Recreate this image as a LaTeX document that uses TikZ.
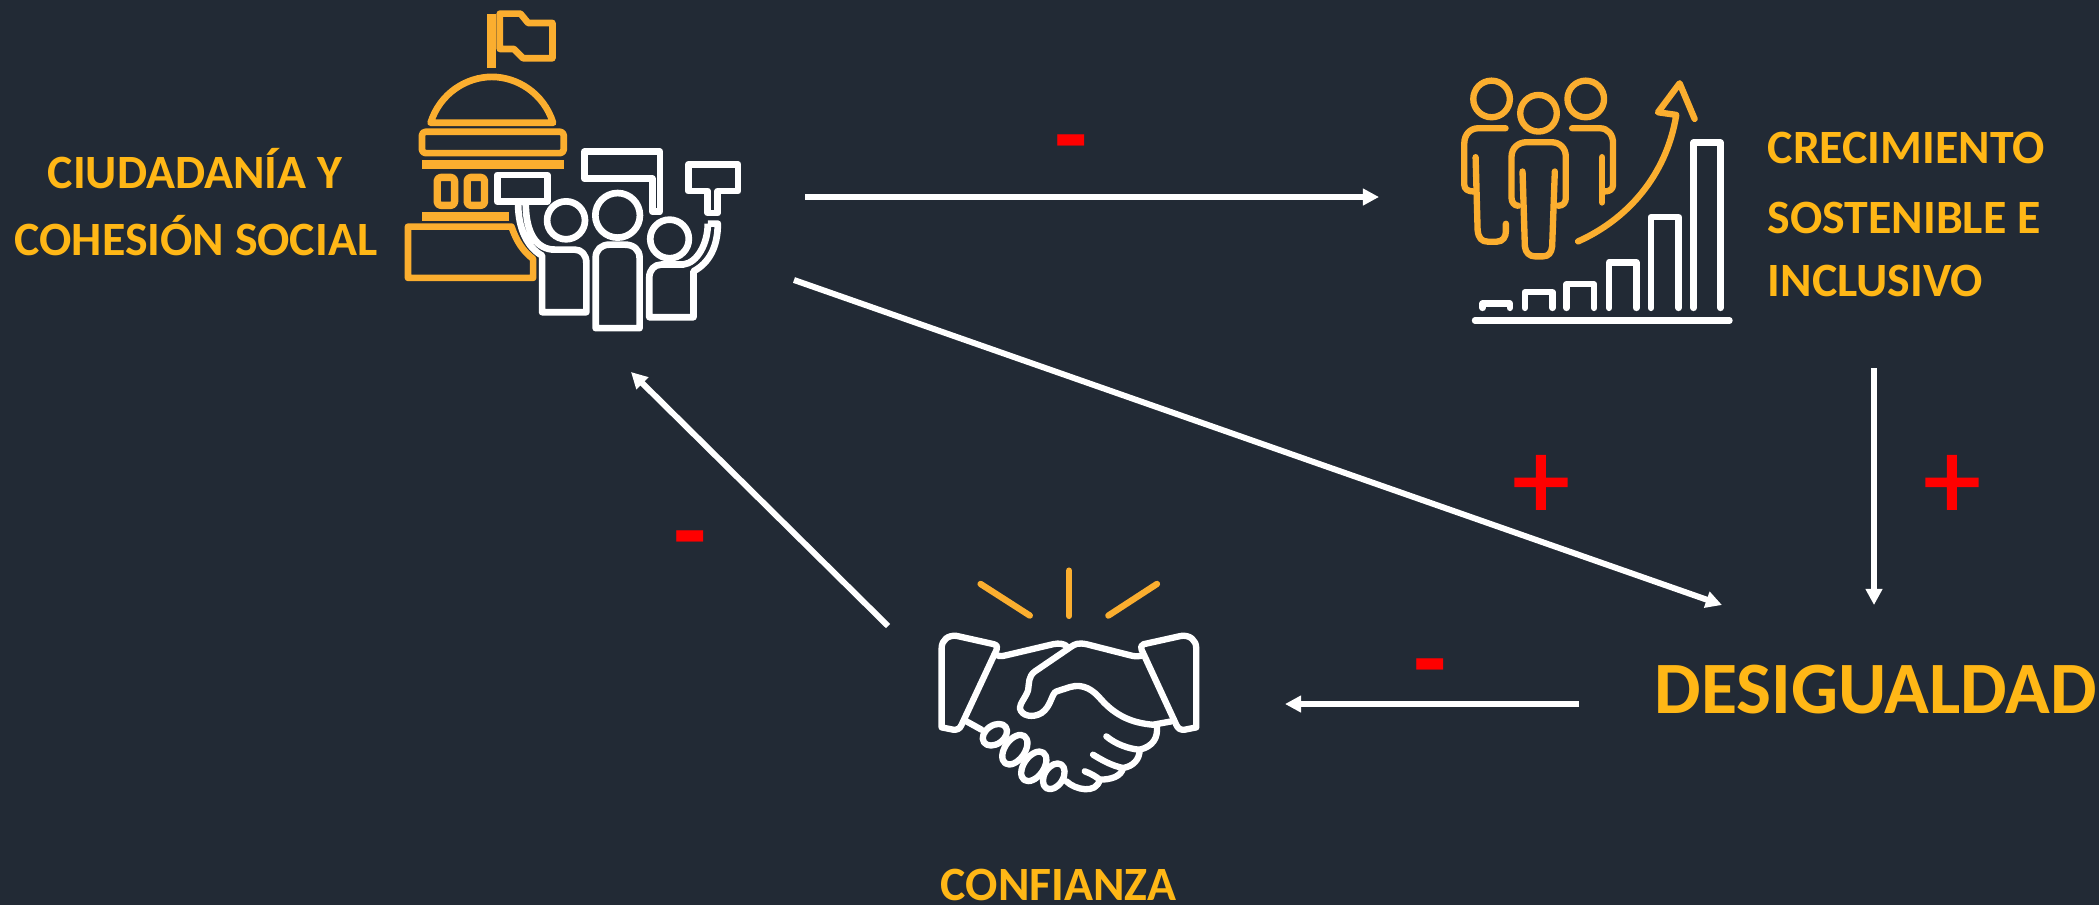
\documentclass[tikz,border=0pt]{standalone}
\usepackage{fontspec}
\setmainfont{Carlito}
\newfontfamily\signfont[FakeBold=2]{Carlito}
\usepackage{tikz}
\usetikzlibrary{arrows.meta}
\definecolor{slatebg}{HTML}{222A35}
\definecolor{labelgold}{HTML}{FFB716}
\definecolor{iconamber}{HTML}{FBAE2F}
\definecolor{signred}{HTML}{FF0000}
\tikzset{
  lab/.style={anchor=base west, inner sep=0pt, text=labelgold, font=\fontsize{13.6}{16}\selectfont\bfseries},
  biglab/.style={lab, font=\fontsize{21}{25}\selectfont\bfseries},
  sign/.style={inner sep=0pt, text=signred, font=\fontsize{31}{31}\selectfont\bfseries},
  signp/.style={sign, font=\fontsize{32}{32}\selectfont\signfont},
  link/.style={draw=white, line width=1.5pt, -{Triangle[length=4.6pt,width=4.6pt]}},
  linkb/.style={link, line width=1.7pt},
  icona/.style={draw=iconamber, line width=1.9pt, line join=round},
  iconw/.style={draw=white, line width=1.9pt, line join=round},
  iconas/.style={icona, line width=1.8pt, line cap=round},
  iconws/.style={iconw, line width=1.8pt, line cap=round},
  zoomed/.style={x=0.003333cm, y=-0.003333cm},
}
\begin{document}
\begin{tikzpicture}[x=0.01cm, y=-0.01cm]
  \useasboundingbox (0,0) rectangle (2099,905);
  \fill[slatebg] (0,0) rectangle (2099,905);

  \begin{scope}[shift={(390,0)}, zoomed]
    \fill[iconamber] (292,42) rectangle (320,205);
    \draw[icona] (330,41) -- (392,41) -- (415,69) -- (488,69) -- (488,175) -- (400,175) -- (372,147) -- (330,147) -- cycle;
    \draw[icona] (122,369) .. controls (150,280) and (230,231) .. (306,231) .. controls (382,231) and (462,280) .. (490,369) -- cycle;
    \draw[icona, rounded corners=1pt] (96,396) rectangle (522,460);
    \fill[iconamber] (96,480) rectangle (522,508);
    \draw[icona, line width=2.1pt, rounded corners=1pt] (142,533) rectangle (194,617);
    \draw[icona, line width=2.1pt, rounded corners=1pt] (232,533) rectangle (284,617);
    \fill[iconamber] (96,636) rectangle (358,663);
    \draw[icona] (54,681) -- (365,681) .. controls (380,725) and (400,755) .. (430,778) -- (430,835) -- (54,835) -- cycle;
    \draw[iconw] (322,526) rectangle (473,606);
    \draw[iconw] (385,612) .. controls (385,690) and (415,745) .. (457,768) -- (457,938) -- (590,938) -- (590,790) .. controls (590,765) and (575,750) .. (555,750) -- (495,750) .. controls (440,750) and (408,700) .. (408,612);
    \draw[iconw] (529,662) circle [radius=57];
    \draw[iconw] (684,647) circle [radius=67];
    \draw[iconw] (840,718) circle [radius=58];
    \draw[iconw] (584,456) -- (811,456) -- (811,636) -- (788,636) -- (788,537) -- (584,537) -- cycle;
    \draw[iconw] (618,986) -- (618,775) .. controls (618,750) and (635,735) .. (660,735) -- (705,735) .. controls (732,735) and (750,750) .. (750,775) -- (750,986) -- cycle;
    \draw[iconw] (896,494) -- (1046,494) -- (1046,574) -- (985,574) -- (985,640) -- (955,640) -- (955,574) -- (896,574) -- cycle;
    \draw[iconw] (955,672) -- (985,672) .. controls (985,740) and (960,790) .. (912,815) -- (912,953) -- (779,953) -- (779,835) .. controls (779,810) and (795,795) .. (815,795) -- (880,795) .. controls (925,790) and (955,730) .. (955,672);
  \end{scope}

  \begin{scope}[shift={(1440,60)}, zoomed]
    \draw[iconas] (155,117) circle [radius=55];
    \draw[iconas] (438,117) circle [radius=55];
    \draw[iconas] (296,160) circle [radius=55];
    \draw[iconas] (197,205) -- (115,205) .. controls (90,205) and (73,225) .. (73,250) -- (73,375) .. controls (73,388) and (85,395) .. (100,395);
    \draw[iconas] (107,292) -- (113,510) .. controls (115,535) and (125,546) .. (145,546) -- (170,546) .. controls (190,546) and (198,530) .. (198,515) -- (198,492);
    \draw[iconas] (235,438) .. controls (222,438) and (215,425) .. (215,415) -- (215,290) .. controls (215,265) and (235,247) .. (260,247) -- (335,247) .. controls (360,247) and (378,265) .. (378,290) -- (378,415) .. controls (378,428) and (370,438) .. (355,438);
    \draw[iconas] (248,335) -- (255,560) .. controls (257,580) and (270,590) .. (285,590) -- (310,590) .. controls (325,590) and (335,580) .. (337,560) -- (345,335);
    \draw[iconas] (397,205) -- (480,205) .. controls (505,205) and (520,225) .. (520,250) -- (520,375) .. controls (520,388) and (510,395) .. (495,395);
    \draw[iconas] (487,292) -- (487,428);
    \draw[iconas] (415,545) .. controls (560,480) and (680,350) .. (710,165) -- (655,157) -- (720,70) -- (765,177);
    \draw[iconws] (128,745) -- (128,732) -- (210,732) -- (210,745);
    \draw[iconws] (255,745) -- (255,698) -- (338,698) -- (338,745);
    \draw[iconws] (380,745) -- (380,674) -- (463,674) -- (463,745);
    \draw[iconws] (508,745) -- (508,608) -- (590,608) -- (590,745);
    \draw[iconws] (634,745) -- (634,472) -- (717,472) -- (717,745);
    \draw[iconws] (762,745) -- (762,248) -- (843,248) -- (843,745);
    \draw[iconws] (105,783) -- (870,783);
  \end{scope}

  \begin{scope}[shift={(920,550)}, zoomed]
    \draw[iconas] (182,102) -- (330,197);
    \draw[iconas] (448,62) -- (448,198);
    \draw[iconas] (712,102) -- (566,197);
    \draw[iconws] (110,258) -- (222,283) .. controls (232,286) and (234,292) .. (230,300) -- (125,525) .. controls (120,537) and (112,541) .. (100,540) -- (65,533) -- (65,295) .. controls (65,270) and (85,255) .. (110,258);
    \draw[iconws] (785,258) -- (672,283) .. controls (664,286) and (662,292) .. (666,300) -- (770,525) .. controls (775,537) and (783,541) .. (795,540) -- (830,533) -- (830,295) .. controls (830,270) and (810,255) .. (785,258);
    \draw[iconws] (235,318) .. controls (245,320) and (250,318) .. (260,316) -- (400,283) .. controls (420,279) and (430,282) .. (440,288);
    \draw[iconws] (665,318) .. controls (650,320) and (645,320) .. (630,316) -- (500,283) .. controls (475,278) and (465,283) .. (455,290) -- (345,365) .. controls (325,380) and (328,400) .. (325,420) .. controls (320,440) and (300,460) .. (300,475) .. controls (305,500) and (340,505) .. (365,490) .. controls (395,470) and (395,430) .. (410,425) -- (450,412) .. controls (490,400) and (520,420) .. (545,450) .. controls (590,500) and (640,520) .. (700,525) -- (755,515);
    \draw[iconws] (560,560) .. controls (590,585) and (630,598) .. (660,600) .. controls (700,590) and (715,565) .. (712,530);
    \draw[iconws] (520,615) .. controls (545,630) and (575,648) .. (610,655) .. controls (640,650) and (660,630) .. (660,600);
    \draw[iconws] (495,665) .. controls (515,672) and (530,682) .. (540,690) .. controls (575,690) and (605,680) .. (610,655);
    \draw[iconws] (440,695) .. controls (465,720) and (530,735) .. (540,690);
    \draw[iconws] (140,515) -- (185,540);
    \draw[iconws] (225,555) ellipse [x radius=40, y radius=28, rotate=35];
    \draw[iconws] (285,600) ellipse [x radius=50, y radius=30, rotate=55];
    \draw[iconws] (342,650) ellipse [x radius=50, y radius=30, rotate=55];
    \draw[iconws] (402,680) ellipse [x radius=42, y radius=28, rotate=58];
  \end{scope}

  \node[lab] (ciudad) at (47,188) {CIUDADANÍA Y};
  \node[lab] (cohesion) at (14,255) {COHESIÓN SOCIAL};
  \node[lab] (crec) at (1767,163) {CRECIMIENTO};
  \node[lab] (sost) at (1767,233) {SOSTENIBLE E};
  \node[lab] (incl) at (1767,296) {INCLUSIVO};
  \node[biglab] (desig) at (1654,713) {DESIGUALDAD};
  \node[lab] (confi) at (940,900) {CONFIANZA};

  \node[sign] (m1) at (1071,153) {-};
  \node[sign] (m2) at (690,549) {-};
  \node[sign] (m3) at (1430,677) {-};
  \node[signp] (p1) at (1541,487) {+};
  \node[signp] (p2) at (1952,487) {+};

  \coordinate (ciudadE) at (805,197);
  \coordinate (crecW) at (1379,197);
  \coordinate (ciudadS) at (794,280);
  \coordinate (desigNW) at (1722,605);
  \coordinate (crecS) at (1874,368);
  \coordinate (desigN) at (1874,605);
  \coordinate (desigW) at (1579,704);
  \coordinate (confiE) at (1285,704);
  \coordinate (confiNW) at (888,626);
  \coordinate (ciudadSE) at (631,372);

  \draw[link] (ciudadE) -- (crecW);
  \draw[linkb] (ciudadS) -- (desigNW);
  \draw[link] (crecS) -- (desigN);
  \draw[link] (desigW) -- (confiE);
  \draw[linkb] (confiNW) -- (ciudadSE);
\end{tikzpicture}
\end{document}
